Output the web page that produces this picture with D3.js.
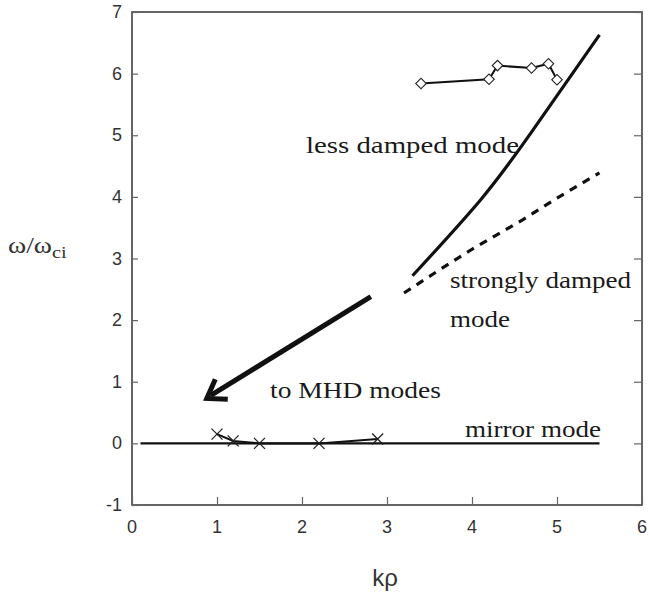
<!DOCTYPE html>
<html><head><meta charset="utf-8">
<script src="https://cdn.jsdelivr.net/npm/d3@7"></script>
<style>body{margin:0;background:#fff}</style>
</head><body>
<svg id="c" width="649" height="595"></svg>
<script>
// ---- data ----
const xTicks = [0,1,2,3,4,5,6];
const yTicks = [-1,0,1,2,3,4,5,6,7];
const diamondX = [3.4, 4.2, 4.3, 4.7, 4.9, 5.0];
const diamondY = [5.84, 5.91, 6.13, 6.09, 6.16, 5.90];
const crossX = [1.0, 1.19, 1.5, 2.2, 2.89];
const crossY = [0.15, 0.04, 0.0, 0.0, 0.07];
const lessDampedX = [3.3, 4.1, 4.7, 5.5];
const lessDampedY = [2.72, 3.95, 5.05, 6.63];
const strongDampedX = [3.2, 3.6, 4.0, 4.6, 5.0, 5.5];
const strongDampedY = [2.44, 2.8, 3.15, 3.63, 3.98, 4.39];
const mirrorX = [0.1, 5.5];
const mirrorY = [0, 0];
const arrowFrom = [2.81, 2.38];
const arrowTo = [0.88, 0.73];

const svg = d3.select('#c');
const x = d3.scaleLinear().domain([0,6]).range([132,642]);
const y = d3.scaleLinear().domain([-1,7]).range([505,12]);
const axisColor = '#333';

// frame
svg.append('rect').attr('x',x(0)).attr('y',y(7)).attr('width',x(6)-x(0)).attr('height',y(-1)-y(7))
  .attr('fill','none').attr('stroke',axisColor).attr('stroke-width',1.5);

// axes (inward ticks)
const gx = svg.append('g').attr('transform',`translate(0,${y(-1)})`)
  .call(d3.axisTop(x).tickValues(xTicks).tickSize(8).tickFormat(''));
const gy = svg.append('g').attr('transform',`translate(${x(0)},0)`)
  .call(d3.axisRight(y).tickValues(yTicks).tickSize(6).tickFormat(''));
const gr = svg.append('g').attr('transform',`translate(${x(6)},0)`)
  .call(d3.axisLeft(y).tickValues(yTicks).tickSize(8).tickFormat(''));
[gx,gy,gr].forEach(g=>{g.select('.domain').remove();g.selectAll('line').attr('stroke','#666').attr('stroke-width',1.2);});

// tick labels
svg.append('g').selectAll('text').data(xTicks).join('text')
  .attr('x',d=>x(d)).attr('y',533).attr('text-anchor','middle')
  .attr('font-family','Liberation Sans, Arial, sans-serif').attr('font-size',18).attr('fill','#333')
  .text(d=>d);
svg.append('g').selectAll('text').data(yTicks).join('text')
  .attr('x',122).attr('y',d=>y(d)+6).attr('text-anchor','end')
  .attr('font-family','Liberation Sans, Arial, sans-serif').attr('font-size',18).attr('fill','#333')
  .text(d=>d);

// axis titles
svg.append('text').attr('x',385).attr('y',586).attr('text-anchor','middle')
  .attr('font-family','Liberation Sans, Arial, sans-serif').attr('font-size',24).attr('fill','#333')
  .text('kρ');
const yl = svg.append('text').attr('transform','translate(8,253) scale(1.2,1)')
  .attr('font-family','Liberation Serif, Times New Roman, serif').attr('font-size',23).attr('fill','#333');
yl.append('tspan').text('ω/ω');
yl.append('tspan').attr('font-size',17).attr('dy',5).text('ci');

const line = d3.line().x(d=>x(d[0])).y(d=>y(d[1]));

// mirror mode line
svg.append('path').datum(d3.zip(mirrorX,mirrorY)).attr('d',line)
  .attr('fill','none').attr('stroke','#111').attr('stroke-width',2.2);

// less damped (solid thick)
svg.append('path').datum(d3.zip(lessDampedX,lessDampedY)).attr('d',d3.line().curve(d3.curveNatural).x(d=>x(d[0])).y(d=>y(d[1])))
  .attr('fill','none').attr('stroke','#111').attr('stroke-width',3.2);

// strongly damped (dashed)
svg.append('path').datum(d3.zip(strongDampedX,strongDampedY)).attr('d',line)
  .attr('fill','none').attr('stroke','#111').attr('stroke-width',3.2).attr('stroke-dasharray','8,7');

// diamond series
svg.append('path').datum(d3.zip(diamondX,diamondY)).attr('d',line)
  .attr('fill','none').attr('stroke','#111').attr('stroke-width',2);
svg.append('g').selectAll('path').data(d3.zip(diamondX,diamondY)).join('path')
  .attr('d',d3.symbol(d3.symbolSquare,55))
  .attr('transform',d=>`translate(${x(d[0])},${y(d[1])}) rotate(45)`)
  .attr('fill','#fff').attr('stroke','#222').attr('stroke-width',1.1);

// cross series
svg.append('path').datum(d3.zip(crossX,crossY)).attr('d',line)
  .attr('fill','none').attr('stroke','#111').attr('stroke-width',2);
svg.append('g').selectAll('path').data(d3.zip(crossX,crossY)).join('path')
  .attr('d','M-5.5,-5.5L5.5,5.5M-5.5,5.5L5.5,-5.5')
  .attr('transform',d=>`translate(${x(d[0])},${y(d[1])})`)
  .attr('fill','none').attr('stroke','#222').attr('stroke-width',1.3);

// arrow
const ax0=x(arrowFrom[0]), ay0=y(arrowFrom[1]), ax1=x(arrowTo[0]), ay1=y(arrowTo[1]);
svg.append('line').attr('x1',ax0).attr('y1',ay0).attr('x2',ax1+4).attr('y2',ay1-3)
  .attr('stroke','#111').attr('stroke-width',5);
const ang = Math.atan2(ay1-ay0, ax1-ax0);
const L = 21, spread = 0.6;
const b1 = [ax1 - L*Math.cos(ang-spread), ay1 - L*Math.sin(ang-spread)];
const b2 = [ax1 - L*Math.cos(ang+spread), ay1 - L*Math.sin(ang+spread)];
svg.append('path').attr('d',`M${b1[0]},${b1[1]}L${ax1},${ay1}L${b2[0]},${b2[1]}`)
  .attr('fill','none').attr('stroke','#111').attr('stroke-width',5).attr('stroke-linejoin','miter');

// annotations
const serif = 'Liberation Serif, Times New Roman, serif';
const notes = [
  {t:'less damped mode', x0:306, x1:519, b:153},
  {t:'strongly damped', x0:450, x1:631, b:288},
  {t:'mode', x0:450, x1:510, b:327},
  {t:'to MHD modes', x0:270, x1:441, b:398},
  {t:'mirror mode', x0:465, x1:601, b:437}
];
svg.append('g').selectAll('text').data(notes).join('text')
  .attr('x',d=>d.x0).attr('y',d=>d.b)
  .attr('textLength',d=>d.x1-d.x0).attr('lengthAdjust','spacingAndGlyphs')
  .attr('font-family',serif).attr('font-size',24).attr('fill','#1a1a1a')
  .text(d=>d.t);
</script>
</body></html>
